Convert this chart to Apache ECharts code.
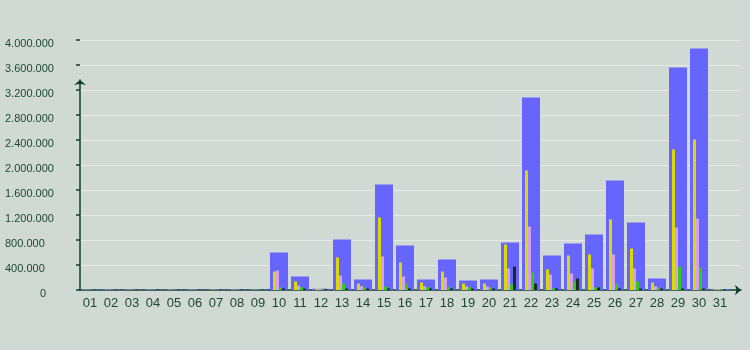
<!DOCTYPE html>
<html>
<head>
<meta charset="utf-8">
<script src="https://cdn.jsdelivr.net/npm/echarts@6/dist/echarts.min.js"></script>
<style>
html,body{margin:0;padding:0;background:#d1d9d5;}
#c{width:750px;height:350px;}
</style>
</head>
<body>
<div id="c"></div>
<script>
const days = ['01','02','03','04','05','06','07','08','09','10','11','12','13','14','15','16','17','18','19','20','21','22','23','24','25','26','27','28','29','30','31'];
const blueVals   = [8000,8000,8000,8000,8000,8000,8000,8000,8000,600000,216000,20000,808000,168000,1688000,712000,168000,488000,152000,168000,760000,3080000,552000,744000,888000,1752000,1080000,184000,3560000,3864000,16000];
const yellowVals = [6000,6000,6000,6000,6000,6000,6000,6000,6000,296000,136000,16000,520000,104000,1160000,440000,120000,296000,104000,104000,728000,1912000,328000,552000,568000,1128000,664000,120000,2248000,2408000,12000];
const pinkVals   = [5000,5000,5000,5000,5000,5000,5000,5000,5000,312000,72000,16000,232000,61000,536000,216000,61000,200000,61000,56000,344000,1016000,248000,264000,344000,568000,344000,61000,1000000,1144000,12000];
const greenVals  = [6000,6000,6000,6000,6000,6000,6000,6000,6000,45000,45000,16000,104000,45000,56000,104000,45000,56000,45000,40000,88000,280000,24000,136000,45000,104000,136000,45000,371000,360000,12000];
const blackVals  = [8000,8000,8000,8000,8000,8000,8000,8000,8000,24000,24000,16000,24000,24000,24000,24000,24000,24000,24000,24000,376000,104000,24000,184000,40000,24000,24000,24000,24000,24000,12000];
const yTickLabels = ['0','400.000','800.000','1.200.000','1.600.000','2.000.000','2.400.000','2.800.000','3.200.000','3.600.000','4.000.000'];

const axisColor = '#0c3e2c';
const textColor = '#1b4737';
const font = "'Liberation Sans', Arial, sans-serif";

const chart = echarts.init(document.getElementById('c'), null, {renderer:'canvas'});
chart.setOption({
  animation: false,
  backgroundColor: '#d1d9d5',
  grid: [
    {left: 79.5, top: 40, width: 651, height: 250},
    {left: 80, top: 40, width: 661, height: 250},
    {left: 80, top: 80, width: 661, height: 210}
  ],
  xAxis: [
    {type:'category', gridIndex:0, data: days, axisLine:{show:false}, axisTick:{show:false},
     axisLabel:{color:textColor, fontSize:13, fontFamily:font, margin:7}},
    {type:'category', gridIndex:0, data: days, show:false},
    {type:'value', gridIndex:1, min:0, max:1, axisLabel:{show:false}, axisTick:{show:false}, splitLine:{show:false},
     axisLine:{show:true, symbol:['none','arrow'], symbolSize:[8,6], lineStyle:{color:axisColor, width:1.5}}},
    {type:'value', gridIndex:2, show:false, min:0, max:1}
  ],
  yAxis: [
    {type:'value', gridIndex:0, min:0, max:4000000, show:false, splitLine:{show:false}},
    {type:'value', gridIndex:1, min:0, max:4000000, interval:400000,
     axisLine:{show:false},
     axisTick:{show:true, length:4, lineStyle:{color:axisColor, width:1.5}},
     splitLine:{show:true, lineStyle:{color:'#e6ebe8', width:1}},
     axisLabel:{align:'left', margin:75, color:textColor, fontSize:11, fontFamily:font, padding:[8,0,0,0],
       formatter: function(v){ const i = Math.round(v/400000); return i===0 ? '{z|'+yTickLabels[0]+'}' : yTickLabels[i]; },
       rich:{z:{color:textColor, fontSize:11, fontFamily:font, padding:[0,0,0,35]}}}},
    {type:'value', gridIndex:2, min:0, max:1, axisLabel:{show:false}, axisTick:{show:false}, splitLine:{show:false},
     axisLine:{show:true, symbol:['none','arrow'], symbolSize:[9,5], lineStyle:{color:axisColor, width:1.5}}}
  ],
  series: [
    {type:'bar', xAxisIndex:0, yAxisIndex:0, data: blueVals, barWidth:18, itemStyle:{color:'#6666ff'}, z:2},
    {type:'bar', xAxisIndex:1, yAxisIndex:0, data: yellowVals, barWidth:3, barGap:'0%', itemStyle:{color:'#dcd800'}, z:3},
    {type:'bar', xAxisIndex:1, yAxisIndex:0, data: pinkVals, barWidth:3, barGap:'0%', itemStyle:{color:'#d4a0f0'}, z:3},
    {type:'bar', xAxisIndex:1, yAxisIndex:0, data: greenVals, barWidth:3, barGap:'0%', itemStyle:{color:'#33cc11'}, z:3},
    {type:'bar', xAxisIndex:1, yAxisIndex:0, data: blackVals, barWidth:3, barGap:'0%', itemStyle:{color:'#1e2a26'}, z:3}
  ]
});
</script>
</body>
</html>
